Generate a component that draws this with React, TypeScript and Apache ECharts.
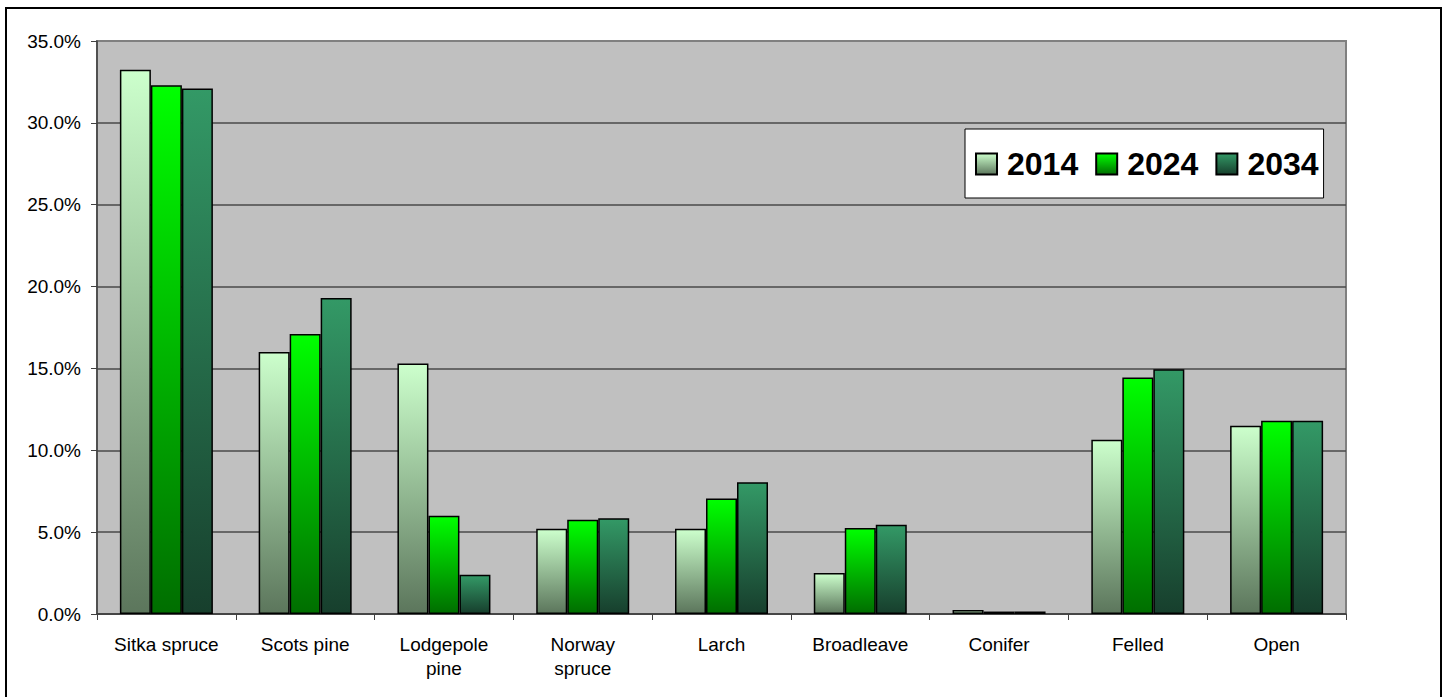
import React, { useEffect, useRef } from "react";
import * as echarts from "echarts";

const categories = [
  "Sitka spruce",
  "Scots pine",
  "Lodgepole\npine",
  "Norway\nspruce",
  "Larch",
  "Broadleave",
  "Conifer",
  "Felled",
  "Open",
];
const seriesNames = ["2014", "2024", "2034"];
const values2014 = [33.25, 16.0, 15.3, 5.2, 5.2, 2.5, 0.25, 10.65, 11.5];
const values2024 = [32.3, 17.1, 6.0, 5.75, 7.05, 5.25, 0.15, 14.45, 11.8];
const values2034 = [32.1, 19.3, 2.4, 5.85, 8.05, 5.45, 0.15, 14.95, 11.8];
const yTicks = { min: 0, max: 35, interval: 5 };

const FONT = '"Liberation Sans", Arial, sans-serif';

const grad = (top: string, bottom: string) =>
  new echarts.graphic.LinearGradient(0, 0, 0, 1, [
    { offset: 0, color: top },
    { offset: 1, color: bottom },
  ]);

export default function App() {
  const ref = useRef<HTMLDivElement>(null);
  useEffect(() => {
    if (!ref.current) return;
    const chart = echarts.init(ref.current, null, { renderer: "svg" });
    const colors = [
      grad("#CCFFCC", "#5C765C"),
      grad("#00FF00", "#006E00"),
      grad("#339966", "#173F2D"),
    ];
    const datas = [values2014, values2024, values2034];
    chart.setOption({
      animation: false,
      backgroundColor: "#ffffff",
      graphic: [
        {
          type: "rect",
          shape: { x: 6, y: 8, width: 1435, height: 720 },
          style: { fill: "none", stroke: "#000000", lineWidth: 2 },
          silent: true,
          z: 100,
        },
      ],
      grid: {
        left: 97,
        top: 41,
        width: 1249,
        height: 573,
        show: true,
        backgroundColor: "#C0C0C0",
        borderColor: "#808080",
        borderWidth: 2,
        containLabel: false,
      },
      legend: {
        data: seriesNames,
        left: 965,
        top: 129,
        orient: "horizontal",
        backgroundColor: "#ffffff",
        borderColor: "#000000",
        borderWidth: 1,
        padding: [19, 5, 18, 10],
        itemWidth: 21,
        itemHeight: 21,
        itemGap: 17,
        icon: "rect",
        textStyle: {
          fontFamily: FONT,
          fontSize: 32,
          fontWeight: "bold",
          color: "#000000",
          padding: [0, 0, 0, 5],
        },
      },
      xAxis: {
        type: "category",
        data: categories,
        boundaryGap: true,
        axisLine: { show: true, lineStyle: { color: "#404040", width: 1.5 } },
        axisTick: { show: true, length: 6, lineStyle: { color: "#404040" } },
        axisLabel: {
          fontFamily: FONT,
          fontSize: 19,
          lineHeight: 24,
          color: "#000000",
          margin: 18,
          interval: 0,
        },
        splitLine: { show: false },
      },
      yAxis: {
        type: "value",
        min: yTicks.min,
        max: yTicks.max,
        interval: yTicks.interval,
        axisLine: { show: true, lineStyle: { color: "#404040", width: 1.5 } },
        axisTick: { show: true, length: 6, lineStyle: { color: "#404040" } },
        axisLabel: {
          fontFamily: FONT,
          fontSize: 19,
          color: "#000000",
          margin: 16,
          formatter: (v: number) => v.toFixed(1) + "%",
        },
        splitLine: {
          show: true,
          showMaxLine: false,
          lineStyle: { color: "#4a4a4a", width: 1.5 },
        },
      },
      series: seriesNames.map((name, i) => ({
        name,
        type: "bar",
        data: datas[i],
        barWidth: 31,
        barGap: "0%",
        itemStyle: {
          color: colors[i],
          borderColor: "#000000",
          borderWidth: 1.5,
        },
      })),
    });
    return () => chart.dispose();
  }, []);
  return (
    <div
      ref={ref}
      style={{ position: "absolute", left: 0, top: 0, width: 1448, height: 697 }}
    />
  );
}
